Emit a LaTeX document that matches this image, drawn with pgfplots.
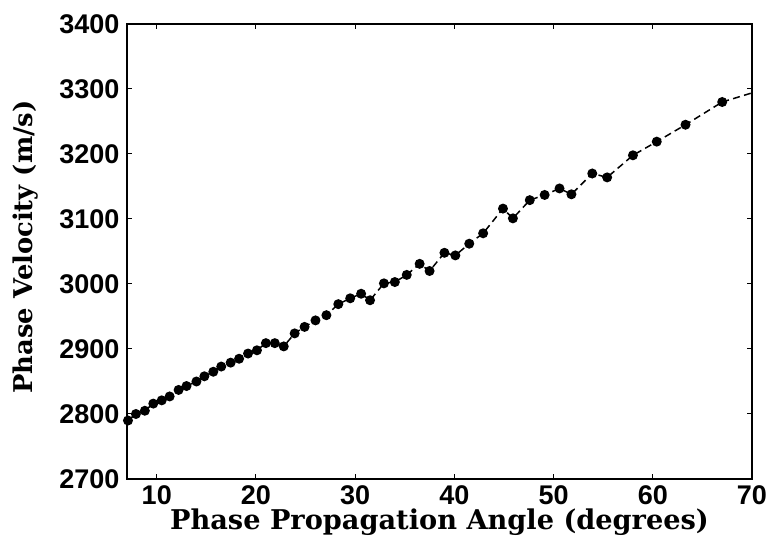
\documentclass[border=0pt]{standalone}
\usepackage{pgfplots}
\pgfplotsset{compat=1.18}
\usepackage{fontspec}
\newfontfamily\tickfont{Liberation Sans}
\newfontfamily\labelfont{DejaVu Serif}

% measured phase velocity versus propagation angle
\pgfplotstableread{
angle vel
7.1   2790
7.9   2800
8.8   2805
9.65  2816
10.5  2821
11.3  2827
12.2  2837
13.0  2843
14.0  2850
14.8  2858
15.7  2865
16.5  2873
17.45 2879
18.3  2885
19.2  2893
20.1  2898
21.0  2909
21.9  2909
22.8  2904
23.9  2924
24.9  2934
26.0  2944
27.1  2952
28.3  2969
29.5  2978
30.6  2985
31.5  2975
32.9  3001
34.0  3003
35.2  3014
36.5  3031
37.5  3020
39.0  3048
40.1  3044
41.5  3062
42.9  3078
44.9  3116
45.9  3101
47.6  3129
49.1  3137
50.6  3147
51.8  3138
53.9  3170
55.4  3164
58.0  3198
60.4  3219
63.3  3245
67.0  3280
}\measured

% trend line continues to the edge of the angle range
\pgfplotstableread{
angle vel
67.0  3280
70.0  3294
}\tail

\begin{document}
\begin{tikzpicture}
\path[use as bounding box] (-63.5pt,-30.5pt) rectangle (323pt,239.5pt);
\begin{axis}[
  at={(0,0)}, anchor=south west,
  scale only axis,
  width=312.5pt, height=227.5pt,
  xmin=7, xmax=70, ymin=2700, ymax=3400,
  xtick={10,20,...,70},
  ytick={2700,2800,...,3400},
  tick align=inside,
  major tick length=2.5pt,
  tick style={black, line width=0.5pt},
  axis line style={black, line width=0.8pt},
  /pgf/number format/assume math mode=true,
  /pgf/number format/set thousands separator={},
  ticklabel style={font=\tickfont\bfseries\fontsize{13.5}{13.5}\selectfont},
  yticklabel style={xshift=-0.3pt},
  xticklabel style={yshift=0.3pt},
  xlabel={Phase Propagation Angle (degrees)},
  ylabel={Phase Velocity (m/s)},
  xlabel style={font=\labelfont\bfseries\fontsize{13.6}{13.6}\selectfont,
    at={(axis description cs:0.5,-0.094)}, anchor=center},
  ylabel style={font=\labelfont\bfseries\fontsize{12.9}{12.9}\selectfont,
    at={(axis description cs:-0.163,0.51)}, anchor=center, rotate=0},
  clip=false,
]
\addplot[black, line width=0.75pt, dash pattern=on 3.5pt off 2.2pt,
  mark=*, mark size=2.1pt, mark options={solid, fill=black}]
  table[x=angle, y=vel] {\measured};
\addplot[black, line width=0.75pt, dash pattern=on 3.5pt off 2.2pt, no marks]
  table[x=angle, y=vel] {\tail};
\end{axis}
\end{tikzpicture}
\end{document}
